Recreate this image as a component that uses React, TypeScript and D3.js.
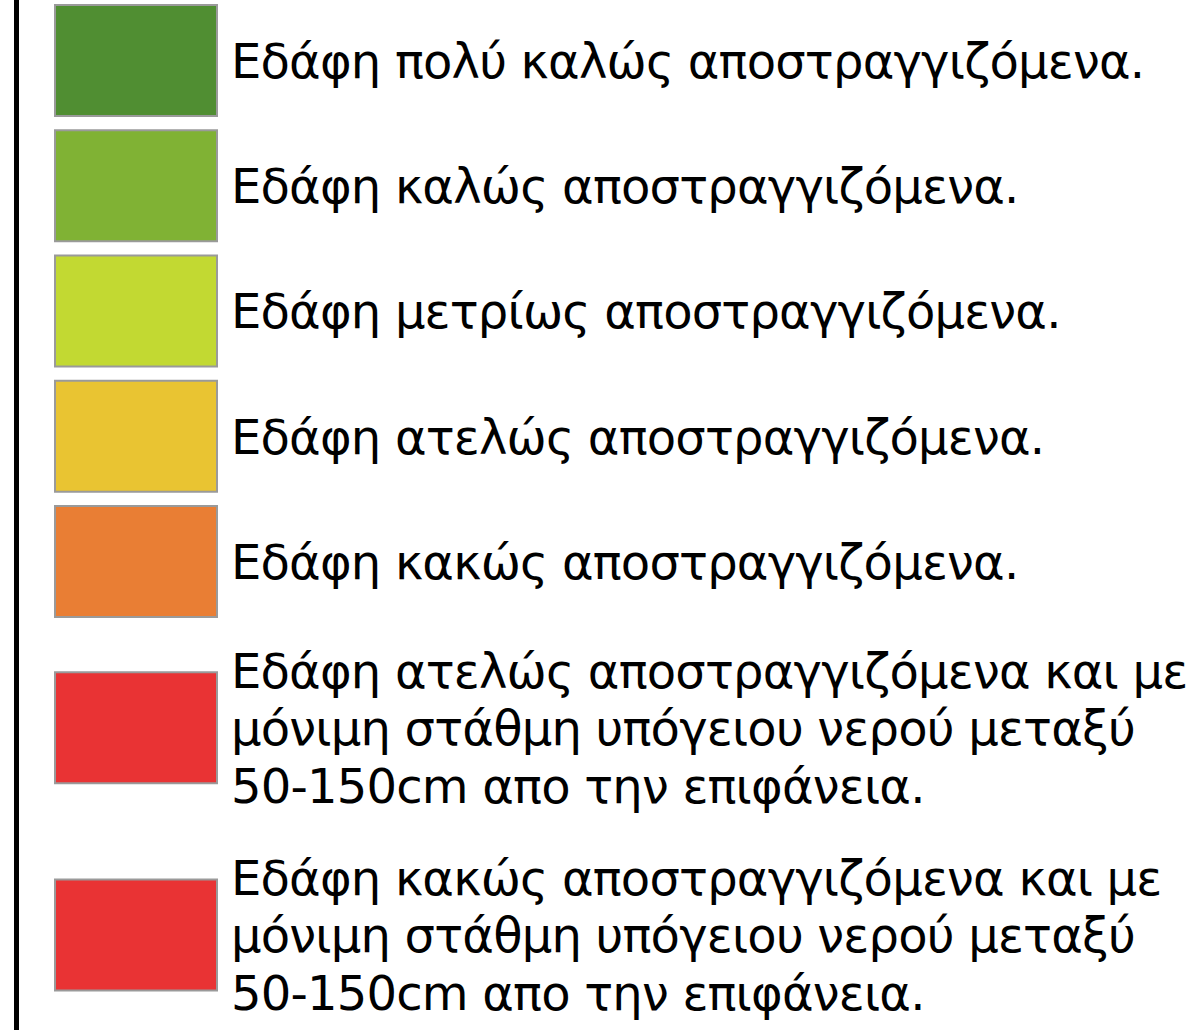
import { useEffect, useRef } from "react"
import * as d3 from "d3"

// Legend classes (drainage of soils)
const labels: string[][] = [
  ["Εδάφη πολύ καλώς αποστραγγιζόμενα."],
  ["Εδάφη καλώς αποστραγγιζόμενα."],
  ["Εδάφη μετρίως αποστραγγιζόμενα."],
  ["Εδάφη ατελώς αποστραγγιζόμενα."],
  ["Εδάφη κακώς αποστραγγιζόμενα."],
  [
    "Εδάφη ατελώς αποστραγγιζόμενα και με",
    "μόνιμη στάθμη υπόγειου νερού μεταξύ",
    "50-150cm απο την επιφάνεια.",
  ],
  [
    "Εδάφη κακώς αποστραγγιζόμενα και με",
    "μόνιμη στάθμη υπόγειου νερού μεταξύ",
    "50-150cm απο την επιφάνεια.",
  ],
]
const colors = ["#508e32", "#80b234", "#c2d932", "#e9c432", "#e97e34", "#e93334", "#e93334"]

export default function App() {
  const svgRef = useRef<SVGSVGElement>(null)

  useEffect(() => {
    if (!svgRef.current) return
    const width = 1189
    const height = 1030
    const svg = d3.select(svgRef.current)
    svg.selectAll("*").remove()
    svg.attr("width", width).attr("height", height)

    const fontSize = 48
    const lineH = 57.5
    const rowH = 125.25
    const extraPerLine = 41

    // stack rows: each row height grows with its line count
    const heights = labels.map((l) => rowH + (l.length - 1) * extraPerLine)
    const centers: number[] = []
    heights.forEach((h, i) => {
      centers.push(i === 0 ? 0 : centers[i - 1] + (heights[i - 1] + h) / 2)
    })
    const y = d3.scaleLinear().domain([0, 1]).range([60.5, 61.5])

    // left border line
    svg.append("line")
      .attr("x1", 16.5).attr("x2", 16.5)
      .attr("y1", 0).attr("y2", height)
      .attr("stroke", "#000").attr("stroke-width", 5)

    const items = svg.selectAll(".item")
      .data(labels)
      .enter()
      .append("g")
      .attr("class", "item")
      .attr("transform", (d, i) => `translate(0, ${y(centers[i])})`)

    items.append("rect")
      .attr("x", 55)
      .attr("y", -55.5)
      .attr("width", 162)
      .attr("height", 111)
      .attr("fill", (d, i) => colors[i])
      .attr("stroke", "#9a9a9a")
      .attr("stroke-width", 2)

    items.each(function (d) {
      const g = d3.select(this)
      const top = -((d.length - 1) * lineH) / 2
      d.forEach((line, j) => {
        g.append("text")
          .attr("x", 231)
          .attr("y", top + j * lineH + fontSize * 0.36)
          .style("font-family", "Tahoma, 'DejaVu Sans', sans-serif")
          .style("font-size", `${fontSize}px`)
          .style("letter-spacing", "-0.8px")
          .style("fill", "#000")
          .text(line)
      })
    })
  }, [])

  return (
    <div style={{ position: "absolute", left: 0, top: 0, background: "#fff" }}>
      <svg ref={svgRef} style={{ display: "block" }}></svg>
    </div>
  )
}
